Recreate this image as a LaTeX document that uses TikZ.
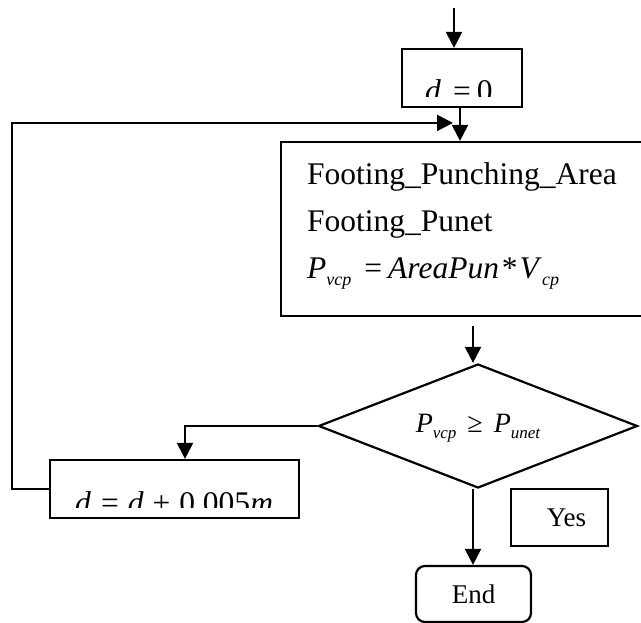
\documentclass[tikz,border=0pt]{standalone}
\usepackage{fontspec}
\setmainfont{Liberation Serif}
\usetikzlibrary{arrows.meta,shapes.geometric}
\newcommand\subA[1]{\raisebox{-7pt}{\fontsize{18}{18}\selectfont\itshape #1}}
\newcommand\subB[1]{\raisebox{-6pt}{\fontsize{17}{17}\selectfont\itshape #1}}
\begin{document}
\begin{tikzpicture}[x=1pt,y=-1pt,
  box/.style={draw,line width=2.2pt,inner sep=0pt},
  arr/.style={line width=2.2pt,-{Triangle[length=16pt,width=16pt]}},
  big/.style={font=\fontsize{31.5}{38}\selectfont,inner sep=0pt},
  mid/.style={font=\fontsize{28}{34}\selectfont,inner sep=0pt},
  lbl/.style={font=\fontsize{27}{32}\selectfont}]
\useasboundingbox (0,0) rectangle (641,623);
\clip (0,0) rectangle (641,623);

% start box d = 0
\node[box,minimum width=120pt,minimum height=58pt] (d0) at (462,78) {};
\begin{scope}
  \clip (403,50) rectangle (521,97);
  \node[big,anchor=base west] (d0t) at (425,102) {\textit{d}\hspace{12pt}=\hspace{6pt}0};
\end{scope}

% process box
\node[box,minimum width=362pt,minimum height=174pt] (foot) at (462,229) {};
\node[big,anchor=base west] (l1) at (307,185) {Footing\_Punching\_Area};
\node[big,anchor=base west] (l2) at (307,232) {Footing\_Punet};
\node[big,anchor=base west] (l3) at (307,279) {\textit{P}\subA{vcp}\hspace{13pt}=\hspace{6pt}\textit{AreaPun}\hspace{3pt}*\hspace{2pt}\textit{V}\subA{cp}};

% decision
\node[draw,line width=2.2pt,diamond,minimum width=319pt,minimum height=124pt,inner sep=0pt,shape aspect=2.57] (dec) at (478,426) {};
\node[mid,anchor=base] (dect) at (478,432) {\textit{P}\subB{vcp}\hspace{11pt}≥\hspace{11pt}\textit{P}\subB{unet}};

% increment box
\node[box,minimum width=249pt,minimum height=58pt] (inc) at (174.5,489) {};
\begin{scope}
  \clip (51,461) rectangle (298,507);
  \node[big,anchor=base west] (inct) at (75,513) {\textit{d}\hspace{10pt}=\hspace{9pt}\textit{d}\hspace{9pt}+\hspace{9pt}0.005\textit{m}};
\end{scope}

% yes label
\node[box,minimum width=97pt,minimum height=57pt] (yes) at (559.5,517.5) {};
\node[lbl,anchor=base,inner sep=0pt] (yest) at (566.5,526) {Yes};

% end
\node[box,rounded corners=9pt,minimum width=115pt,minimum height=56pt,lbl] (end) at (473.5,594) {End};

% connectors
\coordinate (in) at (454,8);
\draw[arr] (in) -- (in |- d0.north);
\draw[arr] ([xshift=-2pt]d0.south) -- ([xshift=-2pt]foot.north);
\draw[arr] ([xshift=11pt,yshift=-9pt]foot.south) -- ([xshift=-5pt]dec.north);
\draw[arr] (dec.west) -| ([xshift=10.5pt]inc.north);
\draw[arr] (inc.west) -- ++(-37pt,0) |- ([xshift=-9pt,yshift=18pt]foot.north);
\draw[arr] ([xshift=-5pt]dec.south) -- ([xshift=-5pt]dec.south |- end.north);
\end{tikzpicture}
\end{document}
